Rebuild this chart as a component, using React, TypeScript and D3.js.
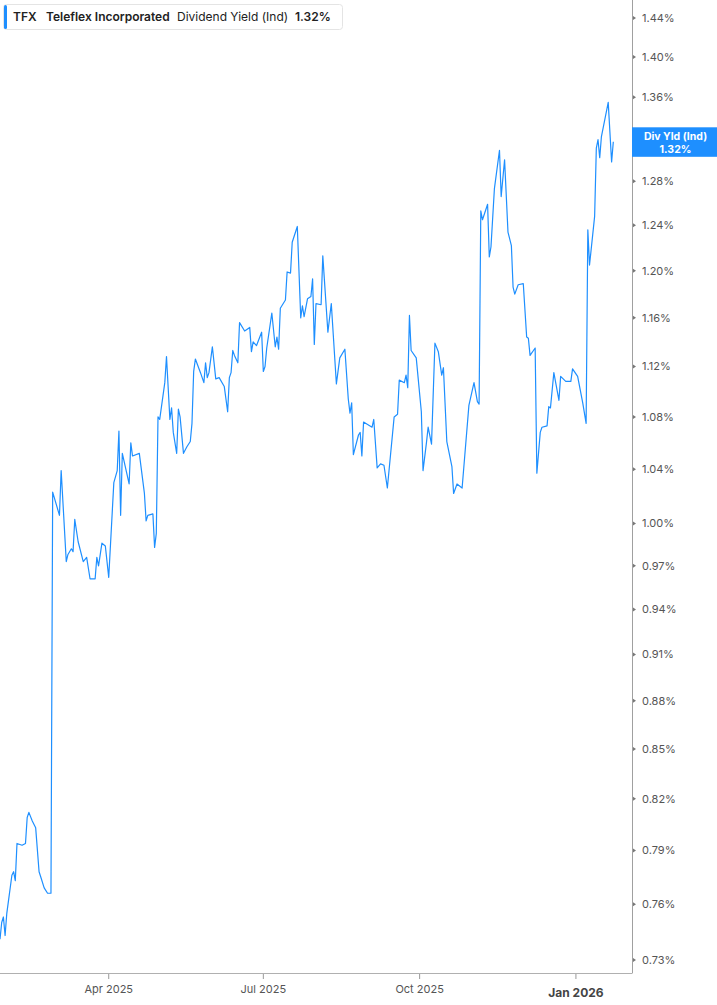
import { scaleUtc, scaleLog, line as d3line, utcFormat } from "d3";

// Div yield (ind) readings, TFX, late Jan 2025 -> late Jan 2026
const yieldSeries: [string, number][] = [
  ["2025-01-27", 0.741], ["2025-01-28", 0.75], ["2025-01-29", 0.753], ["2025-01-30", 0.743],
  ["2025-01-31", 0.755], ["2025-02-03", 0.776], ["2025-02-04", 0.778], ["2025-02-05", 0.773],
  ["2025-02-06", 0.794], ["2025-02-09", 0.793], ["2025-02-11", 0.794], ["2025-02-12", 0.809],
  ["2025-02-13", 0.812], ["2025-02-15", 0.807], ["2025-02-17", 0.803], ["2025-02-19", 0.778],
  ["2025-02-20", 0.775], ["2025-02-22", 0.769], ["2025-02-24", 0.766], ["2025-02-26", 0.766],
  ["2025-02-27", 1.023], ["2025-03-03", 1.006], ["2025-03-04", 1.039], ["2025-03-07", 0.973],
  ["2025-03-08", 0.978], ["2025-03-10", 0.982], ["2025-03-11", 0.98], ["2025-03-12", 1.003],
  ["2025-03-14", 0.987], ["2025-03-17", 0.973], ["2025-03-19", 0.976], ["2025-03-21", 0.961],
  ["2025-03-24", 0.961], ["2025-03-25", 0.976], ["2025-03-26", 0.97], ["2025-03-28", 0.986],
  ["2025-03-30", 0.984], ["2025-04-01", 0.962], ["2025-04-04", 1.03], ["2025-04-06", 1.039],
  ["2025-04-07", 1.069], ["2025-04-08", 1.006], ["2025-04-09", 1.052], ["2025-04-13", 1.029],
  ["2025-04-14", 1.06], ["2025-04-15", 1.05], ["2025-04-19", 1.052], ["2025-04-22", 1.022],
  ["2025-04-23", 1.002], ["2025-04-24", 1.006], ["2025-04-27", 1.007], ["2025-04-28", 0.983],
  ["2025-04-29", 0.993], ["2025-04-30", 1.08], ["2025-05-01", 1.078], ["2025-05-04", 1.107],
  ["2025-05-05", 1.128], ["2025-05-07", 1.078], ["2025-05-08", 1.087], ["2025-05-09", 1.068],
  ["2025-05-11", 1.052], ["2025-05-12", 1.086], ["2025-05-13", 1.08], ["2025-05-15", 1.052],
  ["2025-05-17", 1.057], ["2025-05-19", 1.061], ["2025-05-20", 1.075], ["2025-05-21", 1.116],
  ["2025-05-22", 1.126], ["2025-05-25", 1.115], ["2025-05-27", 1.107], ["2025-05-28", 1.123],
  ["2025-05-29", 1.111], ["2025-05-30", 1.115], ["2025-06-01", 1.136], ["2025-06-03", 1.11],
  ["2025-06-05", 1.111], ["2025-06-08", 1.104], ["2025-06-10", 1.084], ["2025-06-11", 1.111],
  ["2025-06-12", 1.115], ["2025-06-13", 1.133], ["2025-06-14", 1.129], ["2025-06-16", 1.123],
  ["2025-06-17", 1.156], ["2025-06-20", 1.149], ["2025-06-23", 1.152], ["2025-06-24", 1.132],
  ["2025-06-25", 1.14], ["2025-06-27", 1.137], ["2025-06-30", 1.148], ["2025-07-01", 1.116],
  ["2025-07-02", 1.12], ["2025-07-03", 1.135], ["2025-07-06", 1.164], ["2025-07-08", 1.136],
  ["2025-07-09", 1.144], ["2025-07-10", 1.134], ["2025-07-11", 1.168], ["2025-07-14", 1.175],
  ["2025-07-15", 1.199], ["2025-07-17", 1.198], ["2025-07-18", 1.225], ["2025-07-21", 1.239],
  ["2025-07-23", 1.16], ["2025-07-24", 1.17], ["2025-07-25", 1.161], ["2025-07-27", 1.176],
  ["2025-07-29", 1.178], ["2025-07-30", 1.193], ["2025-07-31", 1.138], ["2025-08-01", 1.172],
  ["2025-08-04", 1.171], ["2025-08-05", 1.213], ["2025-08-08", 1.148], ["2025-08-10", 1.172],
  ["2025-08-13", 1.106], ["2025-08-15", 1.127], ["2025-08-18", 1.134], ["2025-08-20", 1.094],
  ["2025-08-21", 1.083], ["2025-08-22", 1.091], ["2025-08-23", 1.051], ["2025-08-26", 1.066],
  ["2025-08-27", 1.068], ["2025-08-28", 1.05], ["2025-08-29", 1.076], ["2025-09-03", 1.072],
  ["2025-09-04", 1.078], ["2025-09-06", 1.041], ["2025-09-08", 1.044], ["2025-09-10", 1.043],
  ["2025-09-12", 1.026], ["2025-09-16", 1.08], ["2025-09-18", 1.082], ["2025-09-19", 1.109],
  ["2025-09-22", 1.107], ["2025-09-23", 1.113], ["2025-09-24", 1.103], ["2025-09-25", 1.162],
  ["2025-09-26", 1.133], ["2025-09-29", 1.127], ["2025-10-02", 1.084], ["2025-10-03", 1.039],
  ["2025-10-05", 1.06], ["2025-10-06", 1.072], ["2025-10-08", 1.059], ["2025-10-10", 1.139],
  ["2025-10-12", 1.132], ["2025-10-14", 1.113], ["2025-10-15", 1.119], ["2025-10-17", 1.061],
  ["2025-10-20", 1.042], ["2025-10-21", 1.022], ["2025-10-23", 1.029], ["2025-10-26", 1.026],
  ["2025-10-30", 1.089], ["2025-11-02", 1.107], ["2025-11-04", 1.092], ["2025-11-05", 1.09],
  ["2025-11-06", 1.253], ["2025-11-07", 1.245], ["2025-11-10", 1.259], ["2025-11-11", 1.212],
  ["2025-11-12", 1.221], ["2025-11-14", 1.273], ["2025-11-17", 1.309], ["2025-11-18", 1.266],
  ["2025-11-20", 1.3], ["2025-11-22", 1.234], ["2025-11-24", 1.222], ["2025-11-25", 1.186],
  ["2025-11-26", 1.18], ["2025-11-28", 1.188], ["2025-12-01", 1.189], ["2025-12-03", 1.144],
  ["2025-12-04", 1.143], ["2025-12-05", 1.129], ["2025-12-08", 1.135], ["2025-12-09", 1.037],
  ["2025-12-11", 1.068], ["2025-12-12", 1.072], ["2025-12-15", 1.073], ["2025-12-16", 1.088],
  ["2025-12-17", 1.087], ["2025-12-19", 1.115], ["2025-12-22", 1.093], ["2025-12-23", 1.112],
  ["2025-12-26", 1.108], ["2025-12-29", 1.108], ["2025-12-30", 1.118], ["2026-01-02", 1.112],
  ["2026-01-05", 1.091], ["2026-01-07", 1.075], ["2026-01-08", 1.236], ["2026-01-09", 1.205],
  ["2026-01-12", 1.248], ["2026-01-13", 1.311], ["2026-01-14", 1.319], ["2026-01-15", 1.302],
  ["2026-01-16", 1.322], ["2026-01-20", 1.355], ["2026-01-22", 1.298], ["2026-01-23", 1.317],
];

// 1.32 sits under the last-value badge, so it is left out like in the original
const yTicks = [0.73, 0.76, 0.79, 0.82, 0.85, 0.88, 0.91, 0.94, 0.97, 1.0, 1.04, 1.08, 1.12, 1.16, 1.2, 1.24, 1.28, 1.36, 1.4, 1.44];
const xTicks = ["2025-04-01", "2025-07-01", "2025-10-01", "2026-01-01"];
const xDomain = ["2025-01-27", "2026-02-03"];

const ticker = "TFX";
const company = "Teleflex Incorporated";
const metric = "Dividend Yield (Ind)";
const badgeLabel = "Div Yld (Ind)";

const W = 717;
const H = 1005;
const plotRight = 632;
const plotBottom = 973;
const BLUE = "#1e8fff";
const FONT = "Inter, 'Noto Sans', sans-serif";

export default function App() {
  const data = yieldSeries.map(([d, v]) => ({ date: new Date(d), value: v }));
  const last = data[data.length - 1];

  const x = scaleUtc()
    .domain(xDomain.map((d) => new Date(d)))
    .range([0, plotRight]);

  // log axis: ticks spread out as the value drops
  const y = scaleLog().domain([1.44, 0.73]).range([18, 960]);

  const path = d3line<(typeof data)[number]>()
    .x((d) => x(d.date))
    .y((d) => y(d.value))(data);

  const fmtMonth = utcFormat("%b %Y");
  const lastY = y(last.value);

  return (
    <svg
      width={W}
      height={H}
      style={{ position: "absolute", left: 0, top: 0, background: "#fff" }}
      fontFamily={FONT}
    >
      <defs>
        <clipPath id="plot">
          <rect x={0} y={0} width={plotRight} height={plotBottom} />
        </clipPath>
      </defs>

      {/* series */}
      <path
        d={path ?? undefined}
        fill="none"
        stroke={BLUE}
        strokeWidth={1.2}
        strokeLinejoin="round"
        clipPath="url(#plot)"
      />

      {/* axes */}
      <line x1={plotRight + 0.5} x2={plotRight + 0.5} y1={0} y2={plotBottom} stroke="#a0a0a0" strokeWidth={1} />
      <line x1={0} x2={plotRight + 0.5} y1={plotBottom + 0.5} y2={plotBottom + 0.5} stroke="#b0b0b0" strokeWidth={1.2} />

      {yTicks.map((t) => (
        <g key={t} transform={`translate(${plotRight + 1},${y(t)})`}>
          <path d="M0,-2L3,0L0,2Z" fill="#777" />
          <text x={9} dy="0.35em" fontSize={11} fill="#555">
            {t.toFixed(2)}%
          </text>
        </g>
      ))}

      {xTicks.map((t, i) => {
        const px = x(new Date(t));
        const isYear = i === xTicks.length - 1;
        return (
          <g key={t} transform={`translate(${px},${plotBottom})`}>
            <line y1={1} y2={6} stroke="#999" />
            <text
              y={isYear ? 24 : 20}
              textAnchor="middle"
              fontSize={isYear ? 12 : 11}
              fontWeight={isYear ? 700 : 400}
              fill={isYear ? "#444" : "#555"}
            >
              {fmtMonth(new Date(t))}
            </text>
          </g>
        );
      })}

      {/* last value badge */}
      <rect x={plotRight} y={lastY - 14.5} width={W - plotRight} height={29.5} fill={BLUE} />
      <g fontSize={10.5} fontWeight={700} fill="#fff" textAnchor="middle">
        <text x={(plotRight + W) / 2 + 1} y={lastY - 1.5}>
          {badgeLabel}
        </text>
        <text x={(plotRight + W) / 2 + 1} y={lastY + 11}>
          {last.value.toFixed(2)}%
        </text>
      </g>

      {/* legend */}
      <rect x={3.5} y={4.5} width={339} height={25} rx={3} fill="#fff" stroke="#e4e4e4" />
      <rect x={4} y={5} width={3} height={24} rx={1.5} fill={BLUE} />
      <g fontSize={12} fill="#222">
        <text x={13} y={21} fontWeight={600}>{ticker}</text>
        <text x={46} y={21} fontWeight={600}>{company}</text>
        <text x={177} y={21}>{metric}</text>
        <text x={295} y={21} fontWeight={600}>{last.value.toFixed(2)}%</text>
      </g>
    </svg>
  );
}
